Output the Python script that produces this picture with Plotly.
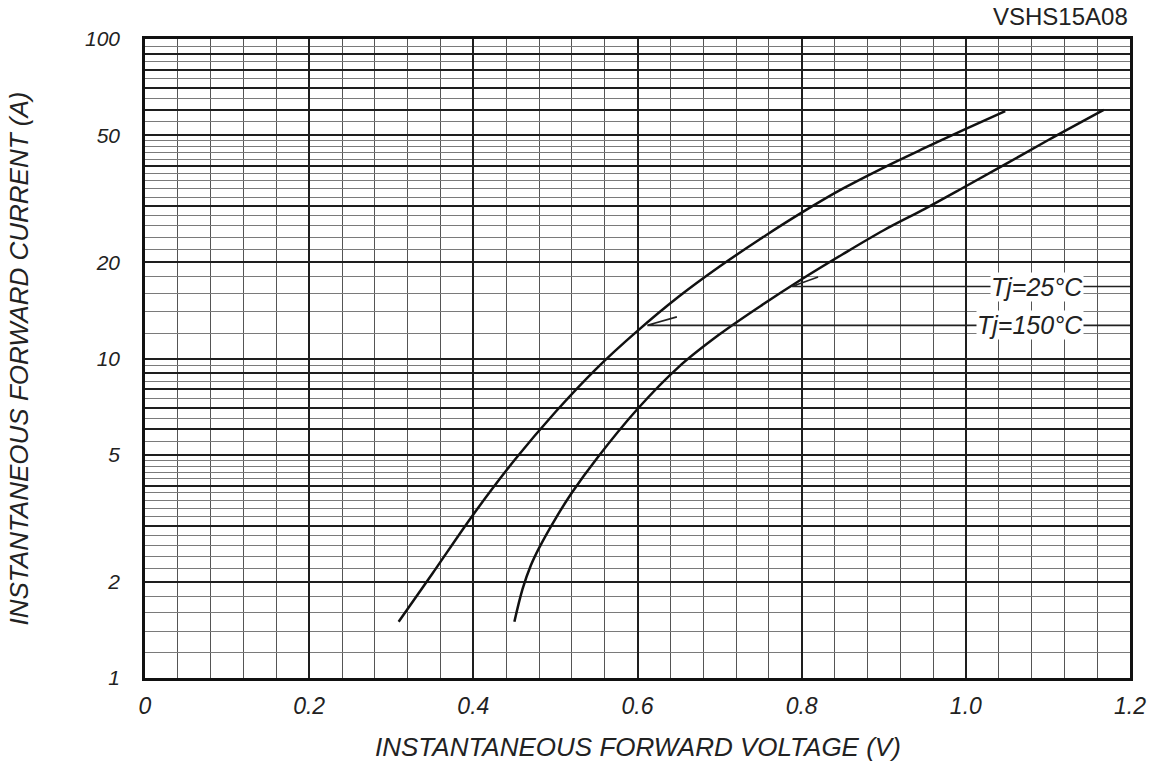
import math
import plotly.graph_objects as go

# ---- data ----
v_150 = [0.309, 0.35, 0.40, 0.45, 0.50, 0.55, 0.60, 0.65, 0.70, 0.75, 0.80, 0.85, 0.90, 0.95, 1.00, 1.048]
i_150 = [1.5, 2.12, 3.25, 4.8, 6.8, 9.3, 12.2, 15.6, 19.4, 23.7, 28.6, 34.0, 39.6, 45.6, 52.3, 59.5]

v_25 = [0.450, 0.46, 0.47, 0.48, 0.50, 0.52, 0.55, 0.60, 0.65, 0.70, 0.75, 0.80, 0.85, 0.90, 0.95, 1.00, 1.05, 1.10, 1.168]
i_25 = [1.5, 1.9, 2.25, 2.55, 3.15, 3.8, 4.85, 6.95, 9.4, 11.9, 14.6, 17.7, 21.2, 25.2, 29.4, 34.6, 40.8, 48.2, 60]

# leader lines (barb end, tip on curve, far end at right border)
lead25_v = [0.820, 0.788, 1.2]
lead25_i = [18.0, 16.8, 16.8]
lead150_v = [0.648, 0.612, 1.2]
lead150_i = [13.5, 12.7, 12.7]
label25 = "Tj=25°C"
label150 = "Tj=150°C"
label25_pos = (1.144, 16.8)
label150_pos = (1.144, 12.7)

x_ticks = [0, 0.2, 0.4, 0.6, 0.8, 1.0, 1.2]
x_ticktext = ["0", "0.2", "0.4", "0.6", "0.8", "1.0", "1.2"]

y_major = [1, 2, 3, 4, 5, 6, 7, 8, 9, 10, 20, 30, 40, 50, 60, 70, 80, 90, 100]
y_labeled = [1, 2, 5, 10, 20, 50, 100]
y_minor = ([1.2, 1.4, 1.6, 1.8] +
           [2.2, 2.4, 2.6, 2.8, 3.2, 3.4, 3.6, 3.8, 4.2, 4.4, 4.6, 4.8] +
           [5.5, 6.5, 7.5, 8.5, 9.5] +
           [12, 14, 16, 18] +
           [22, 24, 26, 28, 32, 34, 36, 38, 42, 44, 46, 48] +
           [55, 65, 75, 85, 95])

FONT = "Liberation Sans, Arial, sans-serif"

fig = go.Figure()
fig.add_trace(go.Scatter(x=v_150, y=i_150, mode="lines",
                         line=dict(color="#111", width=2.5, shape="spline", smoothing=1.0),
                         showlegend=False, hoverinfo="skip"))
fig.add_trace(go.Scatter(x=v_25, y=i_25, mode="lines",
                         line=dict(color="#111", width=2.5, shape="spline", smoothing=1.0),
                         showlegend=False, hoverinfo="skip"))
for vx, iy in [(lead25_v, lead25_i), (lead150_v, lead150_i)]:
    fig.add_trace(go.Scatter(x=vx, y=iy, mode="lines", line=dict(color="#222", width=1.6),
                             showlegend=False, hoverinfo="skip"))

# annotations on a log axis take log10 positions
for txt, pos in [(label25, label25_pos), (label150, label150_pos)]:
    fig.add_annotation(x=pos[0], y=math.log10(pos[1]), yref="y", xref="x", text=txt, showarrow=False,
                       xanchor="right", yanchor="middle", bgcolor="white", borderpad=0,
                       font=dict(family=FONT, size=25, color="#222", style="italic"))

fig.add_annotation(x=1, y=1, xref="paper", yref="paper", yshift=7, text="VSHS15A08", showarrow=False,
                   xanchor="right", yanchor="bottom", font=dict(family=FONT, size=24, color="#222"))
fig.add_annotation(x=0.5, y=0, xref="paper", yref="paper", yshift=-52, text="INSTANTANEOUS FORWARD VOLTAGE (V)",
                   showarrow=False, xanchor="center", yanchor="top",
                   font=dict(family=FONT, size=26, color="#222", style="italic"))
fig.add_annotation(x=0, y=0.5, xref="paper", yref="paper", xshift=-127, text="INSTANTANEOUS FORWARD CURRENT (A)",
                   showarrow=False, xanchor="center", yanchor="middle", textangle=-90,
                   font=dict(family=FONT, size=26, color="#222", style="italic"))

fig.update_layout(
    width=1165, height=767,
    margin=dict(l=145, r=35, t=39, b=89),
    paper_bgcolor="white", plot_bgcolor="white",
    font=dict(family=FONT, color="#222"),
)
fig.update_xaxes(
    range=[0, 1.2], tickmode="array", tickvals=x_ticks, ticktext=x_ticktext,
    showgrid=True, gridcolor="#1e1e1e", gridwidth=2.2,
    minor=dict(dtick=0.04, tick0=0, showgrid=True, gridcolor="#555", gridwidth=1.3),
    showline=True, linecolor="#111", linewidth=2.5, mirror=True,
    ticks="outside", ticklen=6, tickcolor="rgba(0,0,0,0)",
    tickfont=dict(family=FONT, size=23, color="#222", style="italic"),
    zeroline=False, fixedrange=True,
)
fig.update_yaxes(
    type="log", range=[0, 2], tickmode="array", tickvals=y_major,
    ticktext=[str(v) if v in y_labeled else "" for v in y_major],
    showgrid=True, gridcolor="#1e1e1e", gridwidth=2,
    minor=dict(tickmode="array", tickvals=y_minor, showgrid=True, gridcolor="#7a7a7a", gridwidth=1),
    showline=True, linecolor="#111", linewidth=2.5, mirror=True,
    ticks="outside", ticklen=18, tickcolor="rgba(0,0,0,0)",
    tickfont=dict(family=FONT, size=21, color="#222", style="italic"),
    zeroline=False, fixedrange=True,
)

fig.write_html("out.html", config={"displayModeBar": False},
               post_script="document.body.style.margin='0';document.body.style.overflow='hidden';")
